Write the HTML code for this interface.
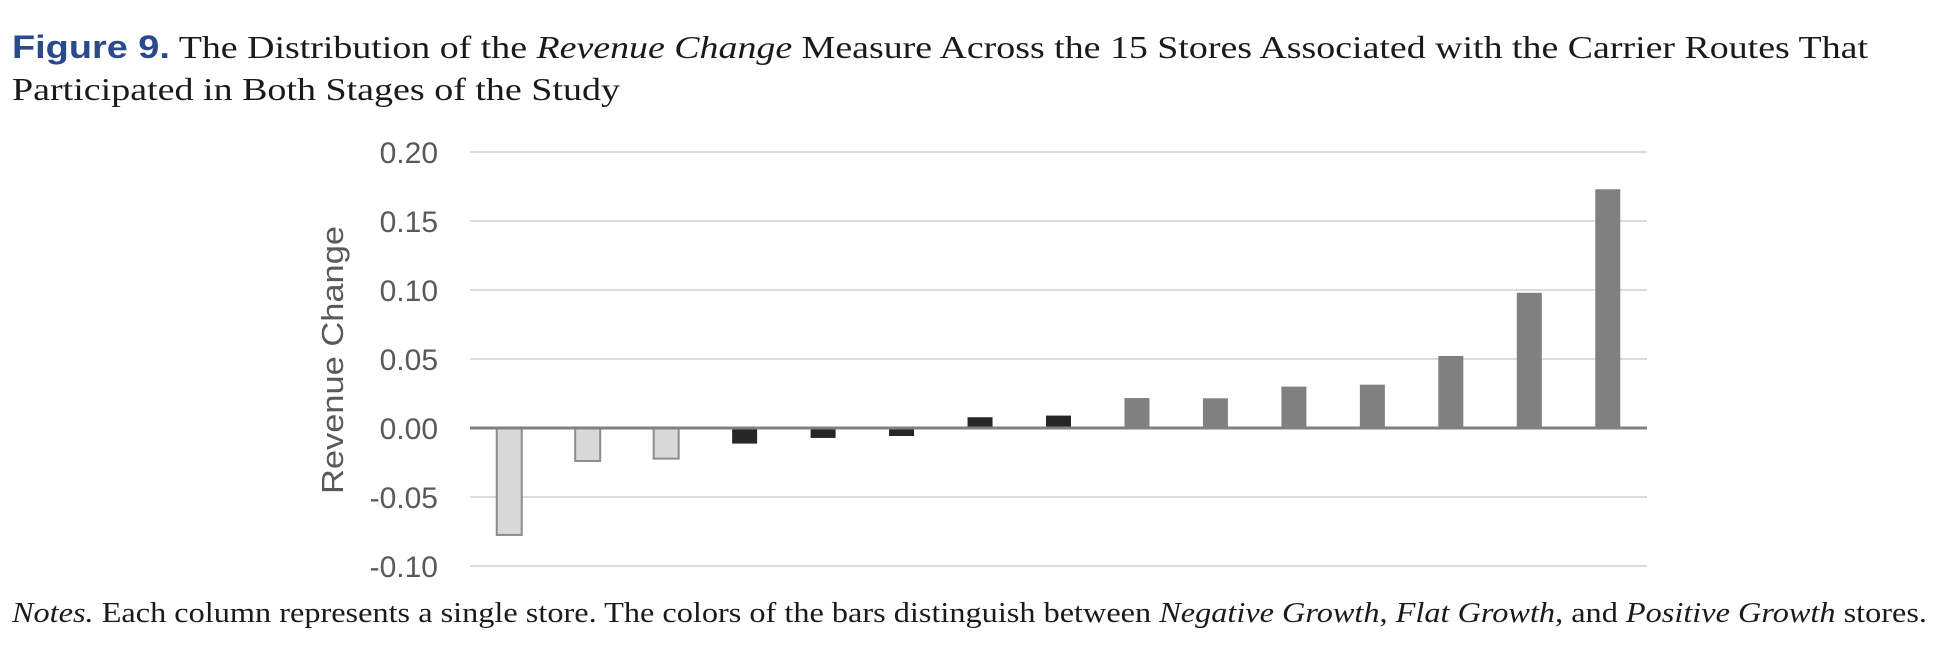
<!DOCTYPE html>
<html><head><meta charset="utf-8"><style>
html,body{margin:0;padding:0;background:#fff;}
svg{display:block;}
</style></head><body>
<svg id="fig" width="1956" height="656" viewBox="0 0 1956 656" xmlns="http://www.w3.org/2000/svg">
<text x="12" y="58" font-family="Liberation Serif, serif" font-size="32" fill="#1a1a1a" textLength="1856" lengthAdjust="spacingAndGlyphs"><tspan font-family="Liberation Sans, sans-serif" font-weight="bold" fill="#2b4a8b">Figure 9.</tspan> The Distribution of the <tspan font-style="italic">Revenue Change</tspan> Measure Across the 15 Stores Associated with the Carrier Routes That</text>
<text x="12" y="100" font-family="Liberation Serif, serif" font-size="32" fill="#1a1a1a" textLength="608" lengthAdjust="spacingAndGlyphs">Participated in Both Stages of the Study</text>
<g id="grid"></g>
<g id="yticks"></g>
<g id="bars"></g>
<line id="zero" stroke="#808080" stroke-width="3"/>
<text transform="translate(343,360) rotate(-90)" text-anchor="middle" font-family="Liberation Sans, sans-serif" font-size="31" fill="#595959" textLength="268" lengthAdjust="spacingAndGlyphs">Revenue Change</text>
<text x="12" y="622" font-family="Liberation Serif, serif" font-size="29" fill="#1a1a1a" textLength="1915" lengthAdjust="spacingAndGlyphs"><tspan font-style="italic">Notes.</tspan>  Each column represents a single store. The colors of the bars distinguish between <tspan font-style="italic">Negative Growth</tspan>, <tspan font-style="italic">Flat Growth</tspan>, and <tspan font-style="italic">Positive Growth</tspan> stores.</text>
</svg>
<script>
const stores = ["S1","S2","S3","S4","S5","S6","S7","S8","S9","S10","S11","S12","S13","S14","S15"];
const revenueChange = [-0.0775,-0.0239,-0.0222,-0.0113,-0.0072,-0.0058,0.0078,0.009,0.0217,0.0215,0.030,0.0314,0.0522,0.098,0.173];
const growthGroup = ["neg","neg","neg","flat","flat","flat","flat","flat","pos","pos","pos","pos","pos","pos","pos"];
const tickValues = [0.20,0.15,0.10,0.05,0.00,-0.05,-0.10];
const tickLabels = ["0.20","0.15","0.10","0.05","0.00","-0.05","-0.10"];

const NS = "http://www.w3.org/2000/svg";
const X0 = 470, X1 = 1647, Y0 = 428, PXU = 1380;
const step = (X1 - X0) / stores.length;
const bw = 25;
function y(v){ return Y0 - v * PXU; }
function xc(i){ return X0 + step * (i + 0.5); }
const fills = {neg:"#d9d9d9", flat:"#262626", pos:"#808080"};

const grid = document.getElementById('grid');
const yt = document.getElementById('yticks');
tickValues.forEach((v,i)=>{
  if (v !== 0) {
    const l = document.createElementNS(NS,'line');
    
    
    l.setAttribute('x1',X0); l.setAttribute('x2',X1);
    l.setAttribute('y1',y(v)); l.setAttribute('y2',y(v));
    l.setAttribute('stroke','#dcdcdc'); l.setAttribute('stroke-width','2');
    grid.appendChild(l);
  }
  const t = document.createElementNS(NS,'text');
  
  
  t.setAttribute('x',438); t.setAttribute('y',y(v)+11);
  t.setAttribute('text-anchor','end');
  t.setAttribute('font-family','Liberation Sans, sans-serif');
  t.setAttribute('font-size','30');
  t.setAttribute('fill','#595959');
  t.textContent = tickLabels[i];
  yt.appendChild(t);
});
const z = document.getElementById('zero');
z.setAttribute('x1',X0); z.setAttribute('x2',X1);
z.setAttribute('y1',y(0)); z.setAttribute('y2',y(0));

const bars = document.getElementById('bars');
revenueChange.forEach((v,i)=>{
  const r = document.createElementNS(NS,'rect');
  
  
  const top = Math.min(y(v), y(0)), h = Math.abs(y(v) - y(0));
  r.setAttribute('x', xc(i) - bw/2);
  r.setAttribute('y', top);
  r.setAttribute('width', bw);
  r.setAttribute('height', h);
  r.setAttribute('fill', fills[growthGroup[i]]);
  if (growthGroup[i] === 'neg') { r.setAttribute('stroke','#8c8c8c'); r.setAttribute('stroke-width','2'); }
  bars.appendChild(r);
});
</script>
</body></html>
